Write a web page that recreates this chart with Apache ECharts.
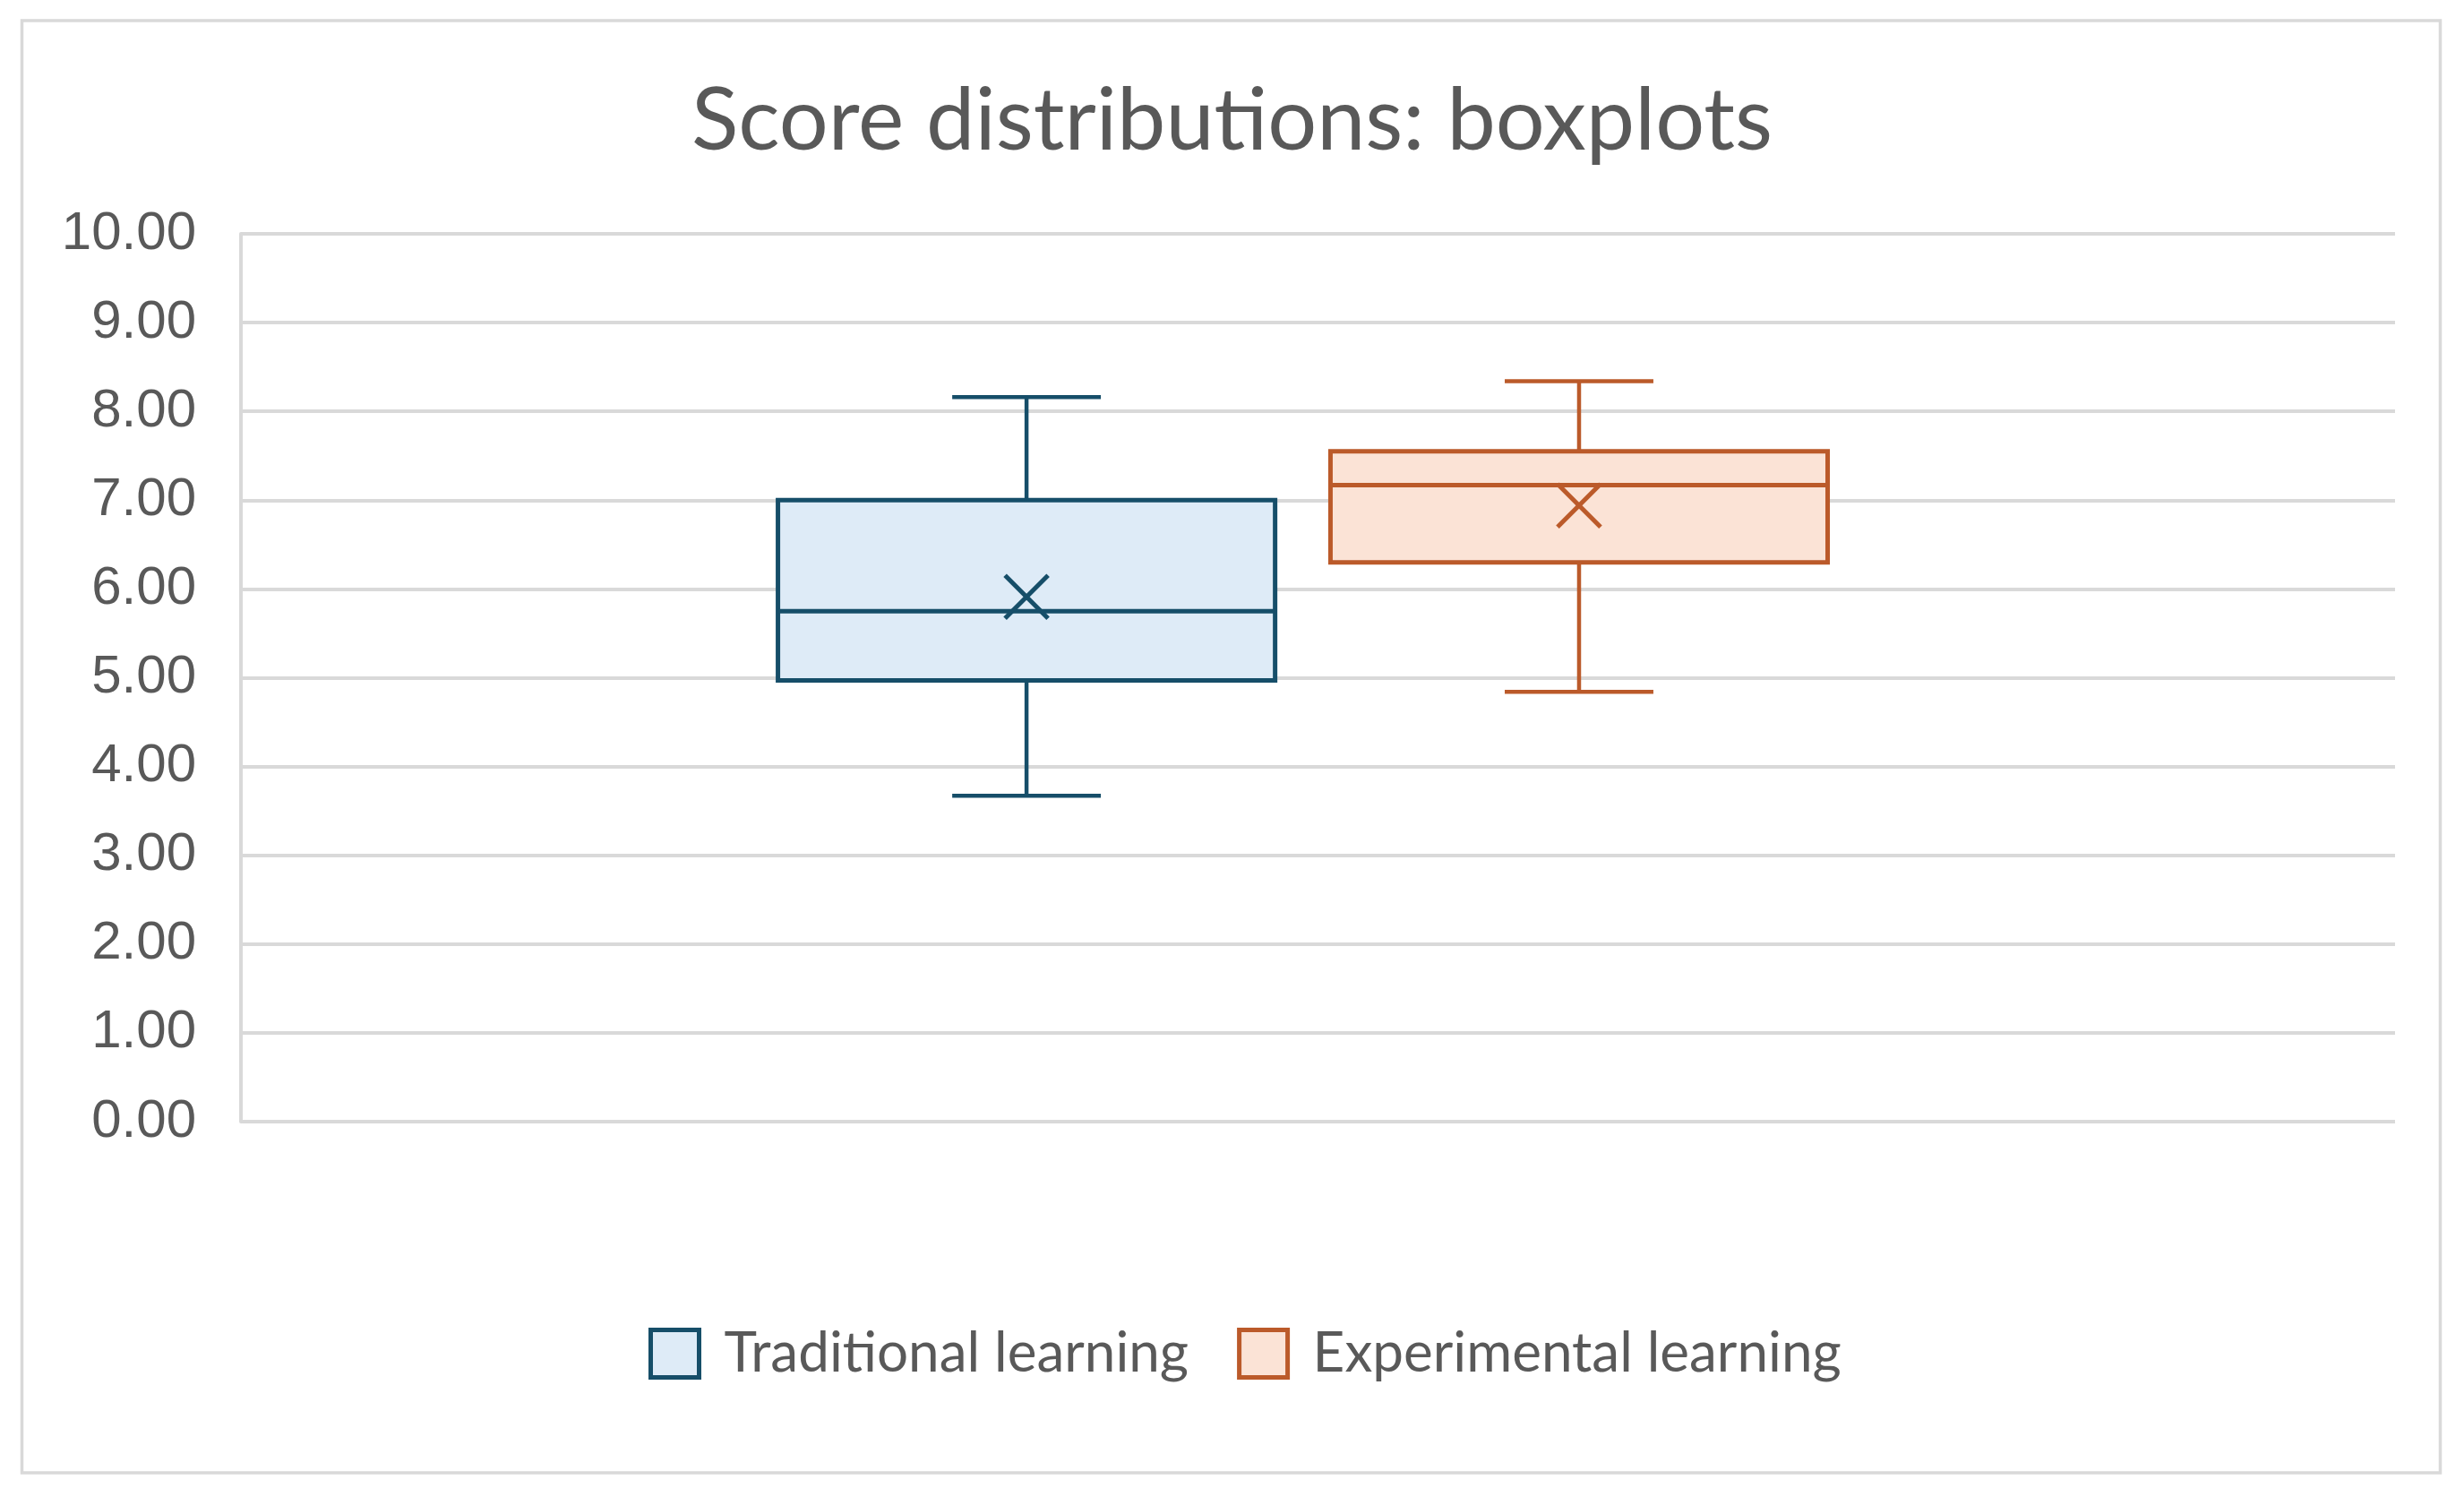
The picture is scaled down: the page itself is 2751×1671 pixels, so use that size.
<!DOCTYPE html>
<html>
<head>
<meta charset="utf-8">
<script src="https://cdn.jsdelivr.net/npm/echarts@6/dist/echarts.min.js"></script>
<style>
  html, body { margin: 0; padding: 0; background: #ffffff; }
  #chart { width: 2751px; height: 1671px; }
</style>
</head>
<body>
<div id="chart"></div>
<script>
// ---- data ----
const categories = ['Scores'];
const seriesNames = ['Traditional learning', 'Experimental learning'];
// [min, Q1, median, Q3, max]
const traditionalStats = [3.67, 4.97, 5.75, 7.00, 8.16];
const experimentalStats = [4.84, 6.30, 7.17, 7.55, 8.34];
const traditionalMean = [5.91];
const experimentalMean = [6.94];
const yTicks = [0, 1, 2, 3, 4, 5, 6, 7, 8, 9, 10];

// ---- styling ----
const strokeColors = ['#164E69', '#BB5A2A'];
const fillColors = ['#DEEBF7', '#FBE3D6'];
const offsets = [-0.1353, 0.1212]; // fraction of band
const boxFrac = 0.2308;
const capFrac = 0.069;
const textColor = '#595959';

function makeRender(idx) {
  return function (params, api) {
    const cat = api.value(0);
    const band = api.size([1, 0])[0];
    const cx = api.coord([cat, 0])[0] + offsets[idx] * band;
    const y = v => api.coord([cat, v])[1];
    const yMin = y(api.value(1)), yQ1 = y(api.value(2)), yMed = y(api.value(3)),
          yQ3 = y(api.value(4)), yMax = y(api.value(5)), yMean = y(api.value(6));
    const hw = boxFrac * band / 2;
    const cw = capFrac * band / 2;
    const sc = strokeColors[idx];
    const lineStyle = w => ({ stroke: sc, lineWidth: w, fill: null });
    const m = 24;
    return {
      type: 'group',
      children: [
        { type: 'line', shape: { x1: cx, y1: yMax, x2: cx, y2: yQ3 }, style: lineStyle(4.5) },
        { type: 'line', shape: { x1: cx, y1: yQ1, x2: cx, y2: yMin }, style: lineStyle(4.5) },
        { type: 'line', shape: { x1: cx - cw, y1: yMax, x2: cx + cw, y2: yMax }, style: lineStyle(4.5) },
        { type: 'line', shape: { x1: cx - cw, y1: yMin, x2: cx + cw, y2: yMin }, style: lineStyle(4.5) },
        { type: 'rect', shape: { x: cx - hw, y: yQ3, width: 2 * hw, height: yQ1 - yQ3 },
          style: { fill: fillColors[idx], stroke: sc, lineWidth: 5 } },
        { type: 'line', shape: { x1: cx - hw, y1: yMed, x2: cx + hw, y2: yMed }, style: lineStyle(5) },
        { type: 'line', shape: { x1: cx - m, y1: yMean - m, x2: cx + m, y2: yMean + m }, style: lineStyle(5) },
        { type: 'line', shape: { x1: cx - m, y1: yMean + m, x2: cx + m, y2: yMean - m }, style: lineStyle(5) }
      ]
    };
  };
}

const allStats = [traditionalStats, experimentalStats];
const allMeans = [traditionalMean, experimentalMean];

const chart = echarts.init(document.getElementById('chart'), null, { renderer: 'canvas' });
chart.setOption({
  backgroundColor: '#ffffff',
  animation: false,
  title: {
    text: 'Score distributions: boxplots',
    left: 'center',
    top: 82,
    textStyle: { fontFamily: 'Lato', fontSize: 97, fontWeight: 'normal', color: textColor }
  },
  graphic: [{
    type: 'rect',
    shape: { x: 24.5, y: 23, width: 2700, height: 1621 },
    style: { fill: null, stroke: '#D9D9D9', lineWidth: 3.5 },
    silent: true, z: -1
  }],
  legend: {
    left: 724,
    top: 1480,
    padding: 0,
    itemWidth: 54,
    itemHeight: 53,
    itemGap: 54,
    icon: 'rect',
    textStyle: { fontFamily: 'Lato', fontSize: 62, color: textColor, padding: [0, 0, 0, 23] },
    data: seriesNames.map((n, i) => ({
      name: n,
      icon: 'rect',
      itemStyle: { color: fillColors[i], borderColor: strokeColors[i], borderWidth: 5 }
    }))
  },
  grid: { left: 269, right: 77, top: 261, bottom: 419, containLabel: false },
  xAxis: {
    type: 'category',
    data: categories,
    axisLine: { show: false },
    axisTick: { show: false },
    axisLabel: { show: false },
    splitLine: { show: false }
  },
  yAxis: {
    type: 'value',
    min: yTicks[0],
    max: yTicks[yTicks.length - 1],
    interval: 1,
    axisLine: { show: true, lineStyle: { color: '#D9D9D9', width: 4 } },
    axisTick: { show: false },
    axisLabel: {
      margin: 50,
      fontFamily: 'Liberation Sans',
      fontSize: 60,
      color: textColor,
      padding: [8, 0, 0, 0],
      formatter: v => v.toFixed(2)
    },
    splitLine: { show: true, lineStyle: { color: '#D9D9D9', width: 4 } }
  },
  series: seriesNames.map((name, i) => ({
    name: name,
    type: 'custom',
    renderItem: makeRender(i),
    itemStyle: { color: fillColors[i], borderColor: strokeColors[i] },
    encode: { x: 0, y: [1, 2, 3, 4, 5] },
    data: [[0].concat(allStats[i], allMeans[i])]
  }))
});
</script>
</body>
</html>
